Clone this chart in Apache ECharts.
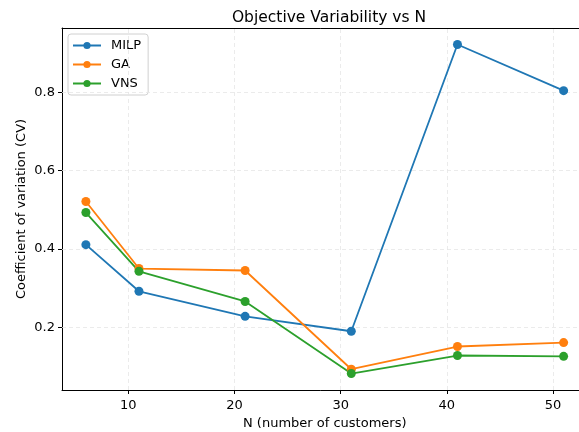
<!DOCTYPE html>
<html><head><meta charset="utf-8">
<script src="https://cdn.jsdelivr.net/npm/echarts@6/dist/echarts.min.js"></script>
<style>html,body{margin:0;padding:0;background:#fff}#c{width:579px;height:432px}</style>
</head><body><div id="c"></div>
<script>
const categories = [6, 11, 21, 31, 41, 51];
const milp = [0.411, 0.292, 0.228, 0.190, 0.922, 0.804];
const ga = [0.521, 0.350, 0.345, 0.093, 0.151, 0.161];
const vns = [0.493, 0.343, 0.266, 0.082, 0.128, 0.126];
const xTicks = [10, 20, 30, 40, 50];
const yTicks = [0.2, 0.4, 0.6, 0.8];

const font = 'DejaVu Sans';
function mk(name, vals, color) {
  return {
    name, type: 'line', data: categories.map((x, i) => [x, vals[i]]), z: 5,
    symbol: 'circle', symbolSize: 9,
    lineStyle: { color, width: 1.8 }, itemStyle: { color },
    emphasis: { disabled: true }, animation: false
  };
}
const chart = echarts.init(document.getElementById('c'), null, { renderer: 'canvas' });
chart.setOption({
  animation: false,
  title: { text: 'Objective Variability vs N', left: 324, top: 5, textAlign: 'center',
    textStyle: { fontFamily: font, fontSize: 15.5, fontWeight: 'normal', color: '#000' } },
  grid: { left: 62, top: 28, right: -8.5, bottom: 42, show: false, outerBoundsMode: 'none', containLabel: false },
  legend: {
    orient: 'vertical', left: 68, top: 34, padding: [5, 7, 5, 4], itemGap: 6,
    itemWidth: 28, itemHeight: 9,
    borderColor: '#d0d0d0', borderWidth: 1, borderRadius: 3, backgroundColor: 'rgba(255,255,255,0.8)',
    textStyle: { fontFamily: font, fontSize: 13, color: '#000', padding: [0, 0, 0, 5] },
    data: ['MILP', 'GA', 'VNS']
  },
  xAxis: [{
    type: 'value', min: 3.75, max: 53.25,
    name: 'N (number of customers)', nameLocation: 'middle', nameGap: 27, nameMoveOverlap: false,
    nameTextStyle: { fontFamily: font, fontSize: 13, color: '#000' },
    axisLine: { show: true, lineStyle: { color: '#000', width: 1 } },
    axisTick: { show: true, length: 4, lineStyle: { color: '#000' }, customValues: xTicks },
    axisLabel: { fontFamily: font, fontSize: 13, color: '#000', margin: 9, customValues: xTicks, formatter: v => String(v) },
    splitLine: { show: false }
  }, {
    type: 'value', position: 'top', min: 3.75, max: 53.25,
    axisLine: { show: true, onZero: false, lineStyle: { color: '#000', width: 1 } },
    axisTick: { show: false }, axisLabel: { show: false }, splitLine: { show: false }
  }],
  yAxis: {
    type: 'value', min: 0.040, max: 0.964,
    name: 'Coefficient of variation (CV)', nameLocation: 'middle', nameGap: 34, nameMoveOverlap: false,
    nameTextStyle: { fontFamily: font, fontSize: 13, color: '#000' },
    axisLine: { show: true, onZero: false, lineStyle: { color: '#000', width: 1 } },
    axisTick: { show: true, length: 4, lineStyle: { color: '#000' }, customValues: yTicks },
    axisLabel: { fontFamily: font, fontSize: 13, color: '#000', margin: 7, customValues: yTicks, formatter: v => v.toFixed(1) },
    splitLine: { show: false }
  },
  series: [
    {
      type: 'line', data: [], silent: true, z: 1,
      markLine: {
        silent: true, symbol: 'none', animation: false,
        lineStyle: { color: '#e6e6e6', type: [4, 3], width: 0.8 },
        label: { show: false },
        data: xTicks.map(v => ({ xAxis: v })).concat(yTicks.map(v => ({ yAxis: v })))
      }
    },
    mk('MILP', milp, '#1f77b4'),
    mk('GA', ga, '#ff7f0e'),
    mk('VNS', vns, '#2ca02c')
  ]
});
</script></body></html>
